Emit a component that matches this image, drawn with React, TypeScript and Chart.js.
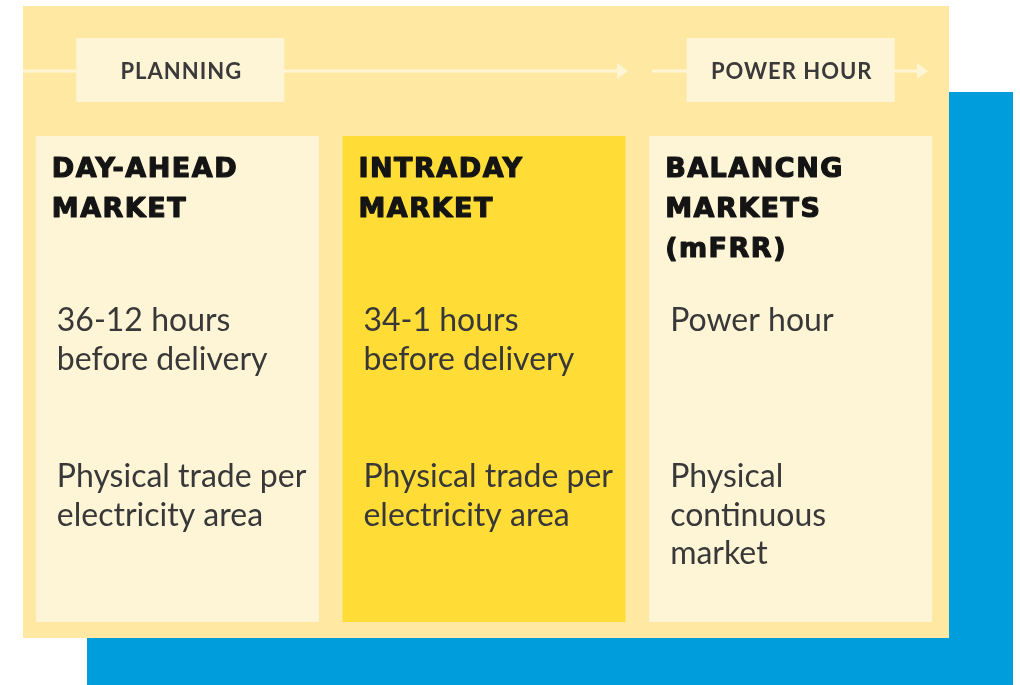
import React, { useEffect, useRef } from "react";
import { Chart, registerables } from "chart.js";

Chart.register(...registerables);

// ---- data ----
const markets = ["DAY-AHEAD MARKET", "INTRADAY MARKET", "BALANCNG MARKETS (mFRR)"];
const titleLines = [["DAY-AHEAD", "MARKET"], ["INTRADAY", "MARKET"], ["BALANCNG", "MARKETS", "(mFRR)"]];
const timingLines = [["36-12 hours", "before delivery"], ["34-1 hours", "before delivery"], ["Power hour"]];
const tradeLines = [["Physical trade per", "electricity area"], ["Physical trade per", "electricity area"], ["Physical", "continuous", "market"]];
const phaseLabels = ["PLANNING", "POWER HOUR"];
const phaseColumns = [0, 2];
const columnSpans = [[0, 1], [0, 1], [0, 1]];
const columnColors = ["#FEF5D7", "#FFDC36", "#FEF5D7"];

const BLUE = "#009DDC";
const PANEL = "#FEE8A2";
const LIGHT = "#FEF5D7";

const decor = {
  id: "decor",
  beforeDraw(chart: any) {
    const ctx = chart.ctx;
    ctx.save();
    ctx.fillStyle = BLUE;
    ctx.fillRect(87, 92, 926, 593);
    ctx.fillStyle = PANEL;
    ctx.fillRect(23, 6, 926, 632);
    // timeline arrows
    ctx.strokeStyle = LIGHT;
    ctx.fillStyle = LIGHT;
    ctx.lineWidth = 3;
    const drawArrow = (x0: number, x1: number, y: number) => {
      ctx.beginPath();
      ctx.moveTo(x0, y);
      ctx.lineTo(x1 - 8, y);
      ctx.stroke();
      ctx.beginPath();
      ctx.moveTo(x1 - 11, y - 8);
      ctx.lineTo(x1, y);
      ctx.lineTo(x1 - 11, y + 8);
      ctx.closePath();
      ctx.fill();
    };
    drawArrow(23, 628, 71);
    drawArrow(652, 928, 71);
    // phase boxes
    const meta = chart.getDatasetMeta(0);
    phaseLabels.forEach((label, i) => {
      const bar = meta.data[phaseColumns[i]];
      const cx = bar.x + (i === 0 ? 3 : 0);
      ctx.fillStyle = LIGHT;
      ctx.fillRect(cx - 104, 38, 208, 64);
      ctx.fillStyle = "#3a3a3a";
      ctx.font = "700 22px Lato";
      (ctx as any).letterSpacing = "1px";
      ctx.textAlign = "center";
      ctx.textBaseline = "middle";
      ctx.fillText(label, cx + 1, 72);
    });
    ctx.restore();
  },
  afterDatasetsDraw(chart: any) {
    const ctx = chart.ctx;
    const meta = chart.getDatasetMeta(0);
    ctx.save();
    ctx.textAlign = "left";
    ctx.textBaseline = "alphabetic";
    markets.forEach((_, i) => {
      const bar = meta.data[i];
      const left = bar.x - bar.width / 2;
      ctx.fillStyle = "#141414";
      ctx.strokeStyle = "#141414";
      ctx.lineWidth = 1.2;
      ctx.lineJoin = "round";
      ctx.font = "700 27px 'DejaVu Sans'";
      (ctx as any).letterSpacing = "1.5px";
      titleLines[i].forEach((t, j) => {
        ctx.fillText(t, left + 16, 177 + j * 40);
        ctx.strokeText(t, left + 16, 177 + j * 40);
      });
      (ctx as any).letterSpacing = "0px";
      ctx.fillStyle = "#383838";
      ctx.font = "400 32px Lato";
      timingLines[i].forEach((t, j) => ctx.fillText(t, left + 21, 331 + j * 39));
      tradeLines[i].forEach((t, j) => ctx.fillText(t, left + 21, 487 + j * 38.5));
    });
    ctx.restore();
  },
};

export default function App() {
  const ref = useRef<HTMLCanvasElement>(null);
  useEffect(() => {
    if (!ref.current) return;
    const chart = new Chart(ref.current, {
      type: "bar",
      data: {
        labels: markets,
        datasets: [
          {
            data: columnSpans as any,
            backgroundColor: columnColors,
            borderWidth: 0,
            barPercentage: 1,
            categoryPercentage: 0.923,
          },
        ],
      },
      options: {
        animation: false,
        responsive: false,
        devicePixelRatio: 1,
        layout: { padding: { left: 24, right: 76, top: 136, bottom: 63 } },
        plugins: { legend: { display: false }, tooltip: { enabled: false }, title: { display: false } },
        scales: {
          x: { display: false, grid: { display: false } },
          y: { display: false, min: 0, max: 1, grid: { display: false } },
        },
      },
      plugins: [decor],
    });
    return () => chart.destroy();
  }, []);
  return (
    <div style={{ position: "absolute", left: 0, top: 0, width: 1020, height: 685, background: "#fff" }}>
      <canvas ref={ref} width={1020} height={685} />
    </div>
  );
}
